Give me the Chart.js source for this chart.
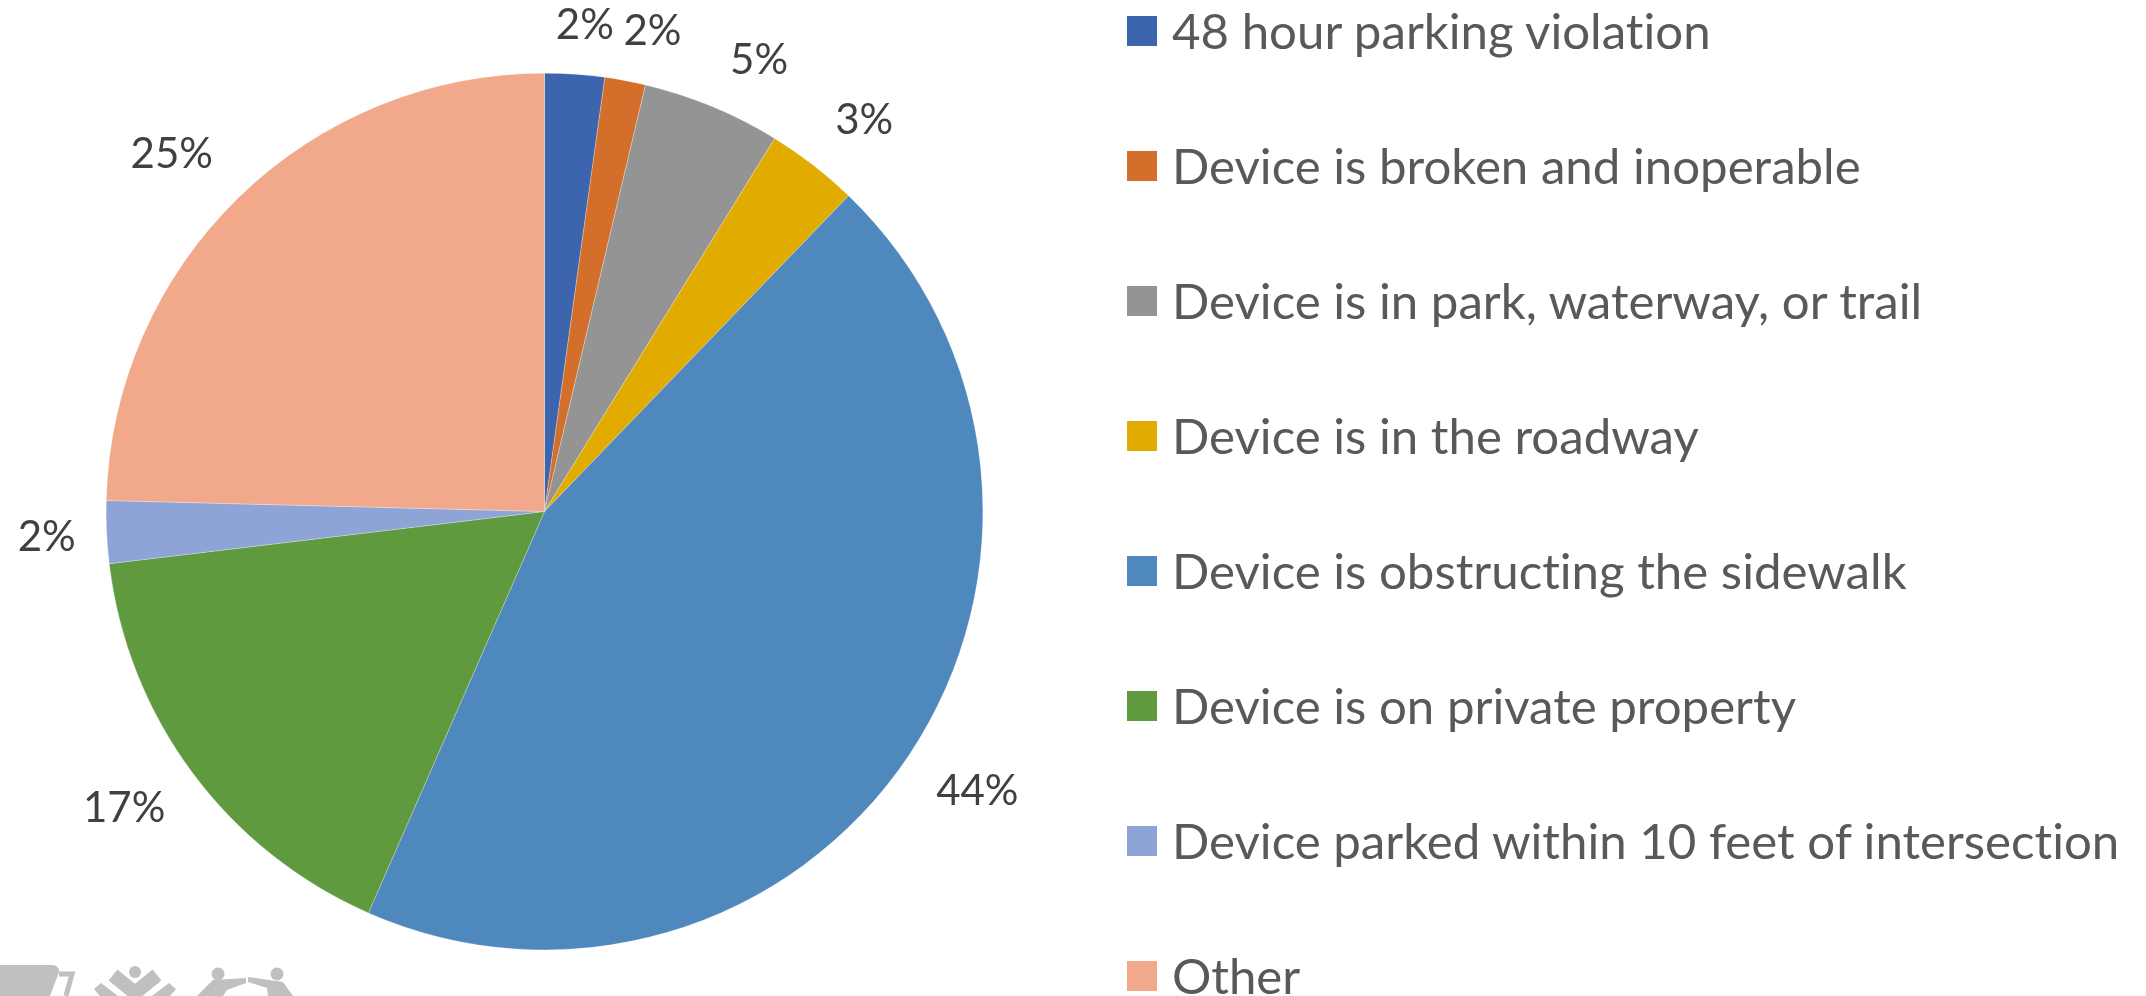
<!DOCTYPE html>
<html>
<head>
<meta charset="utf-8">
<title>Device complaints</title>
<script src="https://cdn.jsdelivr.net/npm/chart.js@4"></script>
<style>
    html, body { margin: 0; background: #fff; overflow: hidden; }
    #wrap { position: relative; width: 2146px; height: 996px; overflow: hidden; }
    #pie { position: absolute; left: 0; top: 0; }
    #legend { position: absolute; left: 1127px; top: 16px; font: 49.2px Lato, sans-serif; font-variant-ligatures: none; color: #595959; }
    .row { display: flex; align-items: center; height: 30px; margin-bottom: 105px; white-space: nowrap; }
    .row span + span { position: relative; top: -2px; }
    .swatch { width: 30px; height: 30px; margin-right: 15px; flex: none; }
    #logo { position: absolute; left: 0; top: 960px; }
</style>
</head>
<body>
<div id="wrap">
    <canvas id="pie" width="2146" height="996"></canvas>
    <div id="legend"></div>
    <svg id="logo" width="310" height="36" fill="#bfc0c2">
        <path d="M0 5H52Q59 5 59 12L50 36H0Z"/>
        <path d="M59 14H72L66 36" fill="none" stroke="#bfc0c2" stroke-width="5"/>
        <circle cx="135" cy="12" r="6"/>
        <path d="M113 15L135 33L157 15" fill="none" stroke="#bfc0c2" stroke-width="14"/>
        <path d="M94 29L101 23L118 36H100Z"/>
        <path d="M176 29L169 23L152 36H170Z"/>
        <circle cx="218" cy="14" r="6.5"/>
        <circle cx="277" cy="14" r="6.5"/>
        <path d="M213 20L246 18V23L227 30L223 36H197Z"/>
        <path d="M248 17V22L267 28L268 36H293L283 22Z"/>
    </svg>
</div>
<script>
const LABELS = [
    '48 hour parking violation',
    'Device is broken and inoperable',
    'Device is in park, waterway, or trail',
    'Device is in the roadway',
    'Device is obstructing the sidewalk',
    'Device is on private property',
    'Device parked within 10 feet of intersection',
    'Other'
]
const VALUES = [2.2, 1.5, 5.1, 3.4, 44.38, 16.52, 2.3, 24.6]
const COLORS = ['#3c65ad', '#d36f2b', '#949494', '#e2ab00', '#4f88bc', '#5f9a3f', '#8fa4d6', '#f1a88b']
// nudges from the default label spot, excel's best fit doesn't sit on the bisector
const NUDGE = [[7, -5], [19, -6], [30, -5], [24, -10], [32, 12], [-33, 10], [-16, 3], [-36, -12]]

const pctLabels = {
    id: 'pctLabels',
    afterDatasetsDraw(chart) {
        const ctx = chart.ctx
        const total = VALUES.reduce((a, b) => a + b, 0)
        ctx.save()
        ctx.font = '42px Lato, sans-serif'
        ctx.fillStyle = '#404040'
        ctx.textAlign = 'center'
        ctx.textBaseline = 'middle'
        chart.getDatasetMeta(0).data.forEach((arc, i) => {
            const mid = (arc.startAngle + arc.endAngle) / 2
            const r = arc.outerRadius + 44
            const x = arc.x + Math.cos(mid) * r + NUDGE[i][0]
            const y = arc.y + Math.sin(mid) * r + NUDGE[i][1]
            ctx.fillText(Math.round(VALUES[i] / total * 100) + '%', x, y)
        })
        ctx.restore()
    }
}

function buildLegend() {
    const div = document.getElementById('legend')
    LABELS.forEach((label, i) => {
        const row = document.createElement('div')
        row.className = 'row'
        const swatch = document.createElement('span')
        swatch.className = 'swatch'
        swatch.style.background = COLORS[i]
        const text = document.createElement('span')
        text.textContent = label
        row.appendChild(swatch)
        row.appendChild(text)
        div.appendChild(row)
    })
}

buildLegend()

const myChart = new Chart(document.getElementById('pie'), {
    type: 'pie',
    data: {
        labels: LABELS,
        datasets: [{
            data: VALUES,
            backgroundColor: COLORS,
            borderColor: '#ffffff',
            borderWidth: 0.25
        }]
    },
    options: {
        responsive: false,
        animation: false,
        layout: { padding: { left: 106, right: 1163, top: 73, bottom: 46 } },
        plugins: {
            legend: { display: false },
            tooltip: { enabled: false }
        }
    },
    plugins: [pctLabels]
})
</script>
</body>
</html>
